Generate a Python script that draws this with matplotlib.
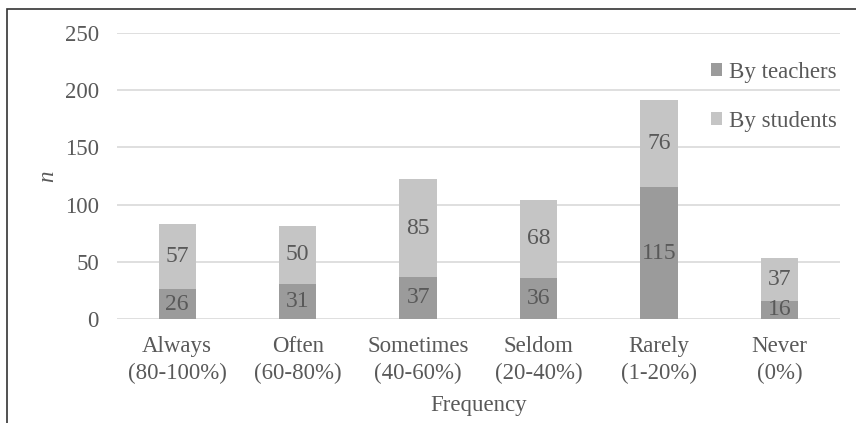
import matplotlib.pyplot as plt
from matplotlib.patches import Rectangle

categories = ["Always\n(80-100%)", "Often\n(60-80%)", "Sometimes\n(40-60%)",
              "Seldom\n(20-40%)", "Rarely\n(1-20%)", "Never\n(0%)"]
by_teachers = [26, 31, 37, 36, 115, 16]
by_students = [57, 50, 85, 68, 76, 37]

c_teach = "#9b9b9b"
c_stud = "#c5c5c5"
txt = "#595959"
fs = 16.5

plt.rcParams['font.family'] = ['Liberation Serif', 'DejaVu Serif']

fig = plt.figure(figsize=(8.56, 4.23), dpi=100)
ax = fig.add_axes([0.1367, 0.2459, 0.8443, 0.6761])

x = range(len(categories))
w = 0.31
b1 = ax.bar(x, by_teachers, w, color=c_teach, label="By teachers", zorder=2)
b2 = ax.bar(x, by_students, w, bottom=by_teachers, color=c_stud,
            label="By students", zorder=2)
ax.bar_label(b1, label_type='center', color=txt, fontsize=fs + 0.5)
ax.bar_label(b2, label_type='center', color=txt, fontsize=fs + 0.5)

ax.set_xlim(-0.5, len(categories) - 0.5)
ax.set_ylim(0, 250)
ax.set_yticks([0, 50, 100, 150, 200, 250])
ax.set_xticks(list(x))
ax.set_xticklabels(categories, linespacing=1.38)
ax.yaxis.grid(True, color="#d9d9d9", lw=1.2, zorder=0)
ax.set_axisbelow(True)
for s in ax.spines.values():
    s.set_visible(False)
ax.tick_params(axis='both', length=0, labelsize=fs, labelcolor=txt)
ax.tick_params(axis='y', pad=13)
ax.tick_params(axis='x', pad=12)

ax.set_xlabel("Frequency", fontsize=fs, color=txt, labelpad=8)
ax.set_ylabel("n", fontsize=fs, color=txt, style='italic', labelpad=5)

ax.legend(loc='upper left', bbox_to_anchor=(0.806, 0.902), bbox_transform=fig.transFigure,
          frameon=False, fontsize=fs, labelcolor=txt, handlelength=0.5,
          handleheight=0.5, handletextpad=0.3, labelspacing=1.2)

# outer frame line along the top and left edges
fig.patches.append(Rectangle((7 / 856, -0.1), 1.2, 1 - 9 / 423 + 0.1,
                             transform=fig.transFigure, fill=False,
                             edgecolor="#333333", lw=1.2))

fig.savefig("out.png", dpi=100)
